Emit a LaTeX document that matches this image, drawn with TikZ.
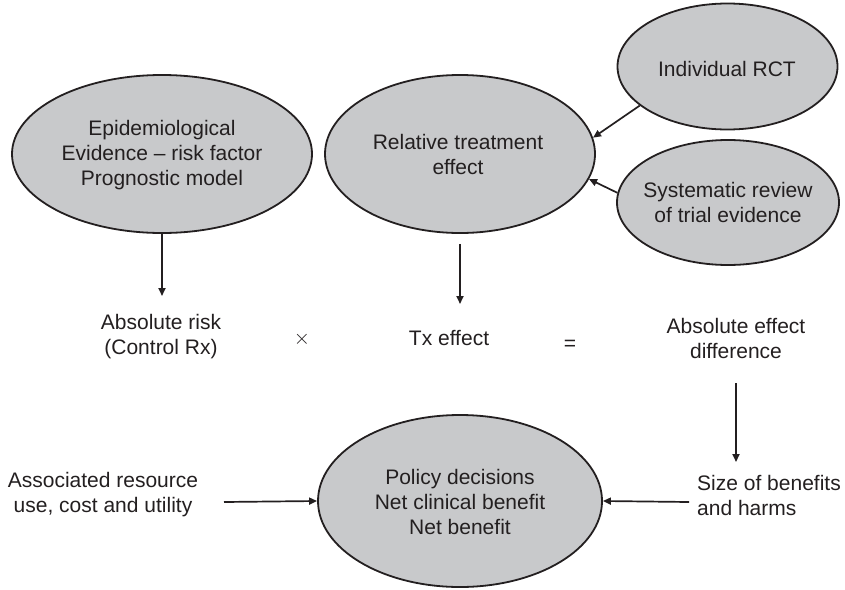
\documentclass[tikz,border=0pt]{standalone}
\usepackage{fontspec}
\setmainfont{Liberation Sans}
\usetikzlibrary{shapes.geometric,arrows.meta}
\definecolor{ellfill}{RGB}{200,201,203}
\definecolor{ink}{RGB}{35,31,32}
\tikzset{
  ell/.style={ellipse, draw=ink, line width=1.8pt, fill=ellfill, inner sep=0pt},
  txt/.style={align=center, inner sep=0pt, text=ink, font=\fontsize{21}{25}\selectfont},
  arr/.style={draw=ink, line width=1.7pt, -{Triangle[length=8pt,width=7pt]}},
}
\begin{document}
\begin{tikzpicture}[x=1pt,y=-1pt]
\useasboundingbox (0,0) rectangle (845,589);
% ellipses
\node[ell, minimum width=300pt, minimum height=158pt] (e1) at (162,154) {};
\node[txt] (e1t) at (162,155) {Epidemiological\\Evidence -- risk factor\\Prognostic model};
\node[ell, minimum width=270pt, minimum height=158pt] (e2) at (460,154) {};
\node[txt] (e2t) at (458,154.5) {Relative treatment\\effect};
\node[ell, minimum width=220pt, minimum height=126pt] (e3) at (727.5,66.5) {};
\node[txt] (e3t) at (727,69) {Individual RCT};
\node[ell, minimum width=222pt, minimum height=125pt] (e4) at (728,202.5) {};
\node[txt] (e4t) at (728,202.5) {Systematic review\\of trial evidence};
\node[ell, minimum width=284pt, minimum height=172pt] (e5) at (460,501) {};
\node[txt] (e5t) at (460,502) {Policy decisions\\Net clinical benefit\\Net benefit};
% middle row texts
\node[txt] (ar) at (161,337) {Absolute risk\\(Control Rx)};
\node[txt] (times) at (302,339) {$\times$};
\node[txt] (tx) at (449,338) {Tx effect};
\node[txt] (eq) at (570,345) {=};
\node[txt] (aed) at (736,338.5) {Absolute effect\\difference};
% bottom row texts
\node[txt] (assoc) at (103,495) {Associated resource\\use, cost and utility};
\node[txt, align=left, anchor=west] (sob) at (697,495) {Size of benefits\\and harms};
% arrow end coordinates
\coordinate (t1) at (162,296);
\coordinate (t2) at (460,304);
\coordinate (s3) at (736,383);
\coordinate (t3) at (736,462);
\coordinate (s4) at (224,502);
\coordinate (s5) at (689,502);
% connectors
\draw[arr] (e1.south) -- (t1);
\draw[arr, shorten <=10pt] (e2.south) -- (t2);
\draw[arr] (e3.204) -- (e2.7.6);
\draw[arr] (e4.175) -- (e2.-11.5);
\draw[arr] (s3) -- (t3);
\draw[arr] (s4) -- (e5.west);
\draw[arr] (s5) -- (e5.east);
\end{tikzpicture}
\end{document}
